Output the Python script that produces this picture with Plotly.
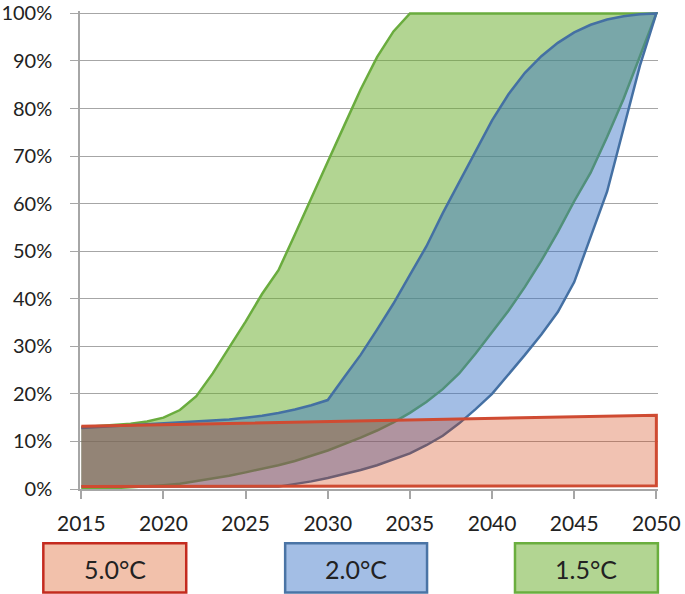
import plotly.graph_objects as go

# ---------------- data (percent) ----------------
years = list(range(2015, 2051))

# 1.5°C band
green_upper = [13.0, 13.2, 13.4, 13.7, 14.2, 15.0, 16.6, 19.5, 24.3, 29.8,
               35.2, 41.0, 46.0, 53.5, 61.0, 68.8, 76.4, 84.0, 90.8, 96.2,
               100, 100, 100, 100, 100, 100, 100, 100, 100, 100,
               100, 100, 100, 100, 100, 100]
green_lower = [0.0, 0.1, 0.2, 0.35, 0.5, 0.8, 1.1, 1.6, 2.2, 2.8,
               3.5, 4.2, 5.0, 5.9, 7.0, 8.1, 9.4, 10.8, 12.3, 14.0,
               16.0, 18.3, 21.0, 24.3, 28.5, 33.0, 37.5, 42.5, 48.0, 54.0,
               60.5, 66.5, 74.0, 82.0, 91.0, 100]

# 2.0°C band
blue_upper = [12.8, 13.0, 13.2, 13.4, 13.6, 13.8, 14.0, 14.2, 14.4, 14.6,
              15.0, 15.4, 16.0, 16.7, 17.6, 18.7, 23.5, 28.2, 33.5, 39.0,
              45.0, 51.0, 58.0, 64.5, 71.0, 77.5, 83.0, 87.5, 91.0, 93.8,
              96.0, 97.6, 98.7, 99.4, 99.8, 100]
blue_lower = [0.5, 0.5, 0.5, 0.5, 0.5, 0.5, 0.5, 0.5, 0.5, 0.5,
              0.5, 0.5, 0.5, 1.0, 1.6, 2.3, 3.1, 4.0, 5.0, 6.2,
              7.5, 9.2, 11.2, 13.8, 16.8, 20.0, 24.0, 28.2, 32.5, 37.2,
              43.5, 53.0, 62.5, 76.0, 89.0, 100]

# 5.0°C band
red_years = [2015, 2050]
red_upper = [13.2, 15.5]
red_lower = [0.5, 0.7]

scenarios = ["5.0°C", "2.0°C", "1.5°C"]
x_ticks = [2015, 2020, 2025, 2030, 2035, 2040, 2045, 2050]
y_ticks = list(range(0, 101, 10))
y_tick_text = [f"{v}%" for v in y_ticks]

# ---------------- styling ----------------
W, H = 685, 594
L, R, T, B = 79.7, 26.9, 11.3, 105.3
FONT = "Lato"

fills = {"5.0°C": "rgba(208,52,0,0.30)",
         "2.0°C": "rgba(51,111,198,0.45)",
         "1.5°C": "rgba(101,171,37,0.50)"}
lines = {"5.0°C": ("#CF4B32", 3),
         "2.0°C": ("#4470A3", 2.5),
         "1.5°C": ("#6AAC3E", 2.5)}
box_fill = {"5.0°C": "#F2C1AB", "2.0°C": "#A3BEE5", "1.5°C": "#B2D592"}
box_line = {"5.0°C": "#C42B1F", "2.0°C": "#4A74A5", "1.5°C": "#6AAE3E"}


def band(xs, up, lo):
    return list(xs) + list(xs)[::-1], list(up) + list(lo)[::-1]


fig = go.Figure()
series = [("1.5°C", years, green_upper, green_lower),
          ("2.0°C", years, blue_upper, blue_lower),
          ("5.0°C", red_years, red_upper, red_lower)]
for name, xs, up, lo in series:
    bx, by = band(xs, up, lo)
    col, w = lines[name]
    fig.add_trace(go.Scatter(x=bx, y=by, mode="lines", fill="toself",
                             fillcolor=fills[name],
                             line=dict(color=col, width=w),
                             name=name, showlegend=False, hoverinfo="skip"))

plot_w = W - L - R
plot_h = H - T - B


def px(xp):
    return (xp - L) / plot_w


def py(yp):
    return (H - B - yp) / plot_h


# custom legend boxes
box_px = {"5.0°C": (43, 186), "2.0°C": (285, 427), "1.5°C": (515, 658)}
y0p, y1p = 543, 592
for name in scenarios:
    x0, x1 = box_px[name]
    fig.add_shape(type="rect", xref="paper", yref="paper",
                  x0=px(x0), x1=px(x1), y0=py(y1p), y1=py(y0p),
                  fillcolor=box_fill[name],
                  line=dict(color=box_line[name], width=2.5))
    fig.add_annotation(xref="paper", yref="paper",
                       x=px((x0 + x1) / 2), y=py((y0p + y1p) / 2 + 1),
                       text=name, showarrow=False,
                       font=dict(family=FONT, size=25, color="#222222"),
                       xanchor="center", yanchor="middle")

fig.update_layout(
    width=W, height=H,
    margin=dict(l=L, r=R, t=T, b=B, pad=0, autoexpand=False),
    plot_bgcolor="white", paper_bgcolor="white",
    font=dict(family=FONT, size=22, color="#222222"),
    xaxis=dict(range=[2014.92, 2050.1], tickvals=x_ticks,
               showgrid=False, zeroline=False, automargin=False,
               showline=True, linecolor="#A6A6A6", linewidth=1.5,
               ticks="outside", ticklen=8, tickcolor="#A6A6A6", tickwidth=1.5,
               ticklabelstandoff=7, layer="below traces",
               ticklabeloverflow="allow",
               tickfont=dict(family=FONT, size=21, color="#222222")),
    yaxis=dict(range=[0, 100.5], tickvals=y_ticks, ticktext=y_tick_text,
               showgrid=True, gridcolor="#A6A6A6", gridwidth=1.2,
               zeroline=False, automargin=False,
               showline=True, linecolor="#A6A6A6", linewidth=1.5,
               ticks="outside", ticklen=8, tickcolor="#A6A6A6", tickwidth=1.2,
               ticklabelstandoff=14, layer="below traces",
               ticklabeloverflow="allow",
               tickfont=dict(family=FONT, size=20, color="#222222")),
)

fig.write_html("out.html",
               config={"displayModeBar": False},
               post_script="document.body.style.margin='0';"
                           "document.body.style.overflow='hidden';")
